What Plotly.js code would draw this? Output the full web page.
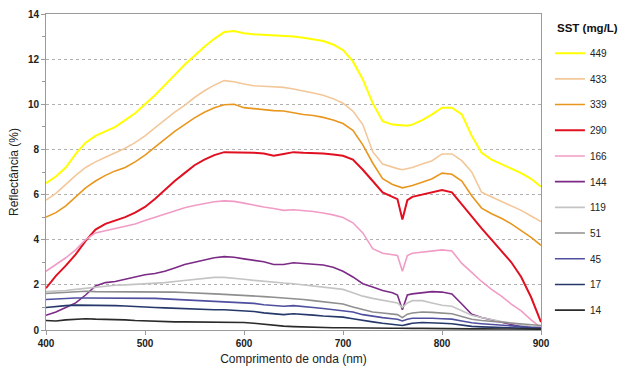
<!DOCTYPE html>
<html>
<head>
<meta charset="utf-8">
<script src="https://cdn.plot.ly/plotly-3.0.1.min.js"></script>
<style>html,body{margin:0;padding:0;background:#fff;}#chart{width:638px;height:371px;}</style>
</head>
<body>
<div id="chart"></div>
<script>
const wavelength = [400,410,420,430,440,450,460,470,480,490,500,510,520,530,540,550,560,570,580,590,600,610,620,630,640,650,660,670,680,690,700,710,720,730,740,750,755,760,765,770,780,790,800,810,820,830,840,850,860,870,880,890,900];

const sst449 = [6.5,6.8,7.2,7.8,8.3,8.6,8.8,9.0,9.3,9.6,10.0,10.4,10.85,11.3,11.75,12.15,12.55,12.9,13.2,13.25,13.15,13.1,13.08,13.05,13.05,13.0,12.95,12.88,12.8,12.65,12.4,11.9,11.1,10.05,9.25,9.1,9.08,9.05,9.05,9.1,9.3,9.55,9.85,9.85,9.55,8.6,7.85,7.55,7.35,7.15,6.95,6.7,6.35];
const sst433 = [5.75,6.05,6.45,6.85,7.2,7.45,7.65,7.85,8.05,8.3,8.6,8.95,9.3,9.65,9.95,10.3,10.6,10.85,11.05,11.0,10.9,10.82,10.8,10.78,10.75,10.68,10.6,10.5,10.4,10.25,10.05,9.7,9.1,7.9,7.35,7.2,7.15,7.1,7.15,7.2,7.35,7.5,7.8,7.8,7.5,7.0,6.1,5.9,5.7,5.5,5.3,5.05,4.8];
const sst339 = [5.0,5.2,5.5,5.9,6.3,6.6,6.85,7.05,7.2,7.45,7.75,8.1,8.45,8.8,9.1,9.4,9.65,9.85,9.98,10.0,9.85,9.8,9.75,9.72,9.7,9.62,9.55,9.5,9.42,9.3,9.15,8.85,8.2,7.4,6.7,6.45,6.38,6.3,6.35,6.4,6.55,6.7,6.95,6.9,6.6,5.95,5.4,5.15,4.95,4.7,4.4,4.1,3.75];
const sst290 = [1.85,2.4,2.85,3.35,3.95,4.45,4.7,4.85,5.0,5.2,5.45,5.8,6.2,6.6,6.95,7.3,7.55,7.75,7.88,7.88,7.85,7.85,7.82,7.72,7.8,7.88,7.85,7.85,7.82,7.78,7.72,7.55,7.1,6.6,6.1,5.9,5.8,4.9,5.75,5.9,6.0,6.1,6.2,6.1,5.55,5.05,4.5,4.0,3.5,3.0,2.35,1.45,0.35];
const sst166 = [2.6,2.9,3.2,3.55,4.0,4.3,4.4,4.5,4.6,4.7,4.85,5.0,5.15,5.3,5.42,5.52,5.6,5.68,5.72,5.7,5.62,5.52,5.45,5.38,5.3,5.33,5.3,5.25,5.18,5.1,4.98,4.75,4.3,3.6,3.4,3.35,3.3,2.6,3.3,3.4,3.45,3.5,3.55,3.5,2.95,2.55,2.15,1.8,1.5,1.15,0.85,0.45,0.1];
const sst144 = [0.65,0.8,1.0,1.2,1.55,1.95,2.1,2.15,2.25,2.35,2.45,2.5,2.6,2.75,2.9,3.0,3.1,3.2,3.25,3.22,3.15,3.1,3.02,2.9,2.9,2.98,2.95,2.92,2.88,2.78,2.6,2.35,2.05,1.9,1.75,1.65,1.55,0.9,1.55,1.6,1.65,1.7,1.68,1.6,1.15,0.7,0.55,0.45,0.35,0.22,0.15,0.12,0.1];
const sst119 = [1.7,1.72,1.75,1.8,1.85,1.9,1.95,1.98,2.0,2.02,2.05,2.08,2.1,2.15,2.2,2.25,2.3,2.33,2.33,2.3,2.25,2.2,2.15,2.1,2.08,2.05,2.0,1.95,1.9,1.88,1.8,1.65,1.5,1.4,1.32,1.26,1.2,1.0,1.2,1.3,1.3,1.2,1.1,1.05,0.85,0.65,0.55,0.45,0.38,0.3,0.22,0.15,0.1];
const sst51 = [1.62,1.65,1.68,1.7,1.72,1.7,1.7,1.7,1.7,1.7,1.7,1.7,1.7,1.68,1.66,1.65,1.62,1.6,1.58,1.56,1.55,1.52,1.48,1.45,1.42,1.4,1.35,1.3,1.25,1.2,1.15,1.02,0.9,0.8,0.75,0.7,0.68,0.55,0.7,0.75,0.8,0.78,0.75,0.72,0.6,0.48,0.42,0.38,0.35,0.3,0.28,0.25,0.2];
const sst45 = [1.35,1.38,1.4,1.42,1.42,1.42,1.42,1.42,1.42,1.4,1.4,1.4,1.38,1.36,1.34,1.32,1.3,1.28,1.26,1.25,1.23,1.18,1.12,1.08,1.05,1.08,1.05,1.0,0.95,0.9,0.88,0.8,0.68,0.6,0.55,0.5,0.48,0.4,0.48,0.52,0.53,0.52,0.5,0.48,0.4,0.32,0.28,0.24,0.2,0.18,0.15,0.12,0.1];
const sst17 = [1.0,1.05,1.08,1.1,1.1,1.08,1.1,1.08,1.06,1.05,1.03,1.0,0.98,0.96,0.95,0.93,0.92,0.9,0.9,0.88,0.87,0.82,0.76,0.72,0.68,0.72,0.7,0.66,0.62,0.6,0.57,0.5,0.42,0.36,0.3,0.26,0.24,0.2,0.25,0.3,0.33,0.33,0.3,0.28,0.22,0.16,0.14,0.12,0.1,0.1,0.08,0.07,0.06];
const sst14 = [0.42,0.4,0.45,0.47,0.5,0.48,0.48,0.47,0.45,0.42,0.4,0.38,0.37,0.36,0.36,0.36,0.35,0.35,0.35,0.34,0.33,0.3,0.25,0.2,0.17,0.15,0.13,0.12,0.11,0.1,0.1,0.09,0.09,0.08,0.08,0.08,0.08,0.07,0.07,0.07,0.07,0.06,0.06,0.06,0.06,0.05,0.05,0.05,0.05,0.05,0.04,0.04,0.04];

const seriesNames = ["449","433","339","290","166","144","119","51","45","17","14"];
const seriesValues = [sst449,sst433,sst339,sst290,sst166,sst144,sst119,sst51,sst45,sst17,sst14];
const seriesColors = ["#ffff00","#f3c79a","#e8961e","#e01020","#f19cc6","#7b2a86","#c4c4c4","#8f8f8f","#4f4fa0","#26386a","#2a2a2a"];
const legendTitle = "SST (mg/L)";

const traces = seriesNames.map((n,i)=>({
  x: wavelength, y: seriesValues[i], name: n, type: 'scatter', mode: 'lines',
  legendgroup: 'g'+i,
  line: {color: seriesColors[i], width: (i===3||i===0)?2:1.6}
}));

const layout = {
  width: 638, height: 371,
  margin: {l: 46, r: 97, t: 14, b: 41},
  paper_bgcolor: '#ffffff', plot_bgcolor: '#ffffff',
  font: {family: 'Arial, Liberation Sans, sans-serif', color: '#222'},
  showlegend: true,
  legend: {
    x: 1.018, xanchor: 'left', y: 0.922, yanchor: 'top',
    font: {size: 10, color: '#222'},
    tracegroupgap: 6.7,
    bgcolor: 'rgba(0,0,0,0)'
  },
  annotations: [{
    text: '<b>' + legendTitle + '</b>', xref: 'paper', yref: 'paper',
    x: 1.028, y: 0.956, xanchor: 'left', yanchor: 'middle', showarrow: false,
    font: {size: 11.5, color: '#111'}
  }],
  xaxis: {
    range: [400, 900], dtick: 100, tick0: 400,
    showgrid: false, zeroline: false,
    showline: true, linecolor: '#9a9a9a', linewidth: 1, mirror: true,
    ticks: 'outside', ticklen: 4, tickcolor: '#9a9a9a',
    tickfont: {size: 10, color: '#222', weight: 'bold'},
    title: {text: 'Comprimento de onda (nm)', font: {size: 12, color: '#222'}, standoff: 6}
  },
  yaxis: {
    range: [0, 14], dtick: 2, tick0: 0,
    showgrid: true, gridcolor: '#b0b0b0', griddash: 'dot', gridwidth: 1,
    zeroline: false,
    showline: true, linecolor: '#9a9a9a', linewidth: 1, mirror: true,
    ticks: 'outside', ticklen: 4, tickcolor: '#9a9a9a',
    minor: {dtick: 1, ticks: 'outside', ticklen: 3, tickcolor: '#9a9a9a', showgrid: false},
    tickfont: {size: 10, color: '#222', weight: 'bold'},
    title: {text: 'Reflectância (%)', font: {size: 12, color: '#222'}, standoff: 6}
  }
};

Plotly.newPlot('chart', traces, layout, {displayModeBar: false, staticPlot: true});
</script>
</body>
</html>
